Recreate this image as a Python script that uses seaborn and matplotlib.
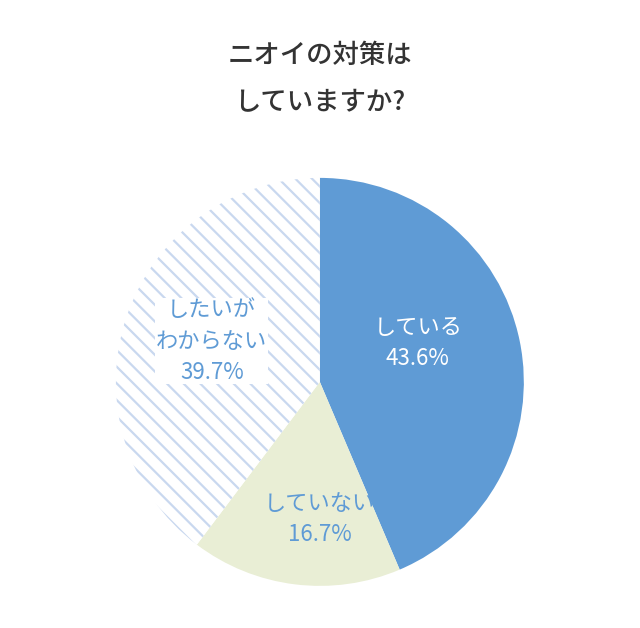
import matplotlib
matplotlib.use('Agg')
import matplotlib.pyplot as plt
import seaborn as sns

sns.set_style('white')
plt.rcParams['font.family'] = ['Noto Sans CJK JP', 'DejaVu Sans']
plt.rcParams['hatch.color'] = '#c9d8ef'
plt.rcParams['hatch.linewidth'] = 1.6

labels = ['している', 'していない', 'したいが\nわからない']
values = [43.6, 16.7, 39.7]
colors = ['#5f9bd5', '#e9eed5', 'white']
text_colors = ['white', '#5f9bd5', '#5f9bd5']

fig = plt.figure(figsize=(6.4, 6.28), dpi=100)
ax = fig.add_axes([0.181, 0.0669, 0.6375, 0.65])
wedges, _ = ax.pie(values, colors=colors, startangle=90, counterclock=False,
                   radius=1, wedgeprops=dict(linewidth=0))
wedges[2].set_hatch('\\\\')
wedges[2].set_edgecolor('#c9d8ef')
ax.set_xlim(-1, 1)
ax.set_ylim(-1, 1)
ax.set_aspect('equal')

positions = [(0.48, 0.19), (0.0, -0.67), (-0.53, 0.2)]
for lab, v, (x, y), c in zip(labels, values, positions, text_colors):
    bbox = dict(facecolor='white', edgecolor='none', pad=0.5) if lab.startswith('したいが') else None
    ax.text(x, y, f'{lab}\n{v}%', ha='center', va='center', color=c,
            fontsize=16, linespacing=1.45, bbox=bbox)

fig.text(0.5, 0.912, 'ニオイの対策は', ha='center', va='center', fontsize=19,
         color='#333333', fontweight='medium')
fig.text(0.5, 0.836, 'していますか?', ha='center', va='center', fontsize=19,
         color='#333333', fontweight='medium')

fig.savefig('out.png', dpi=100)
